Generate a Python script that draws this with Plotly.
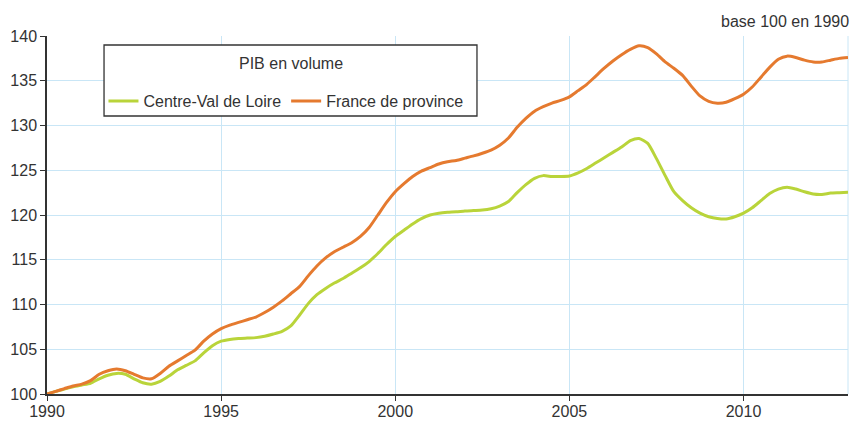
import plotly.graph_objects as go

# Quarterly index, base 100 in 1990
years = [1990 + q / 4 for q in range(93)]

france_province = [
    100.0, 100.3, 100.6, 100.9,
    101.1, 101.5, 102.2, 102.6,
    102.8, 102.6, 102.2, 101.8,
    101.7, 102.3, 103.1, 103.7,
    104.3, 104.9, 105.9, 106.7,
    107.3, 107.7, 108.0, 108.3,
    108.6, 109.1, 109.7, 110.4,
    111.2, 112.0, 113.2, 114.3,
    115.2, 115.9, 116.4, 116.9,
    117.6, 118.6, 120.0, 121.4,
    122.6, 123.5, 124.3, 124.9,
    125.3, 125.7, 125.95, 126.1,
    126.35, 126.6, 126.9, 127.25,
    127.8, 128.6, 129.8, 130.8,
    131.6, 132.1, 132.5, 132.8,
    133.2, 133.9, 134.6, 135.5,
    136.4, 137.2, 137.9, 138.5,
    138.9, 138.7, 138.0, 137.1,
    136.4, 135.6, 134.4, 133.3,
    132.7, 132.5, 132.6, 133.0,
    133.5, 134.3, 135.4, 136.5,
    137.4, 137.75, 137.6, 137.3,
    137.1, 137.1, 137.3, 137.5,
    137.6,
]

centre_val_de_loire = [
    100.0, 100.3, 100.55, 100.8,
    101.0, 101.2, 101.7, 102.1,
    102.3, 102.2, 101.7, 101.25,
    101.1, 101.4, 102.0, 102.7,
    103.2, 103.7, 104.6, 105.4,
    105.9, 106.1, 106.2, 106.25,
    106.3, 106.45, 106.7, 107.0,
    107.6, 108.8, 110.1, 111.1,
    111.8, 112.4, 112.9, 113.5,
    114.1, 114.8, 115.7, 116.7,
    117.6, 118.3, 119.0, 119.6,
    120.0, 120.2, 120.3, 120.35,
    120.45, 120.5, 120.55, 120.7,
    121.0, 121.5, 122.5, 123.4,
    124.1, 124.4, 124.3, 124.3,
    124.35, 124.7, 125.2, 125.8,
    126.4, 127.0, 127.6, 128.3,
    128.55, 128.0, 126.3, 124.4,
    122.6, 121.6, 120.8, 120.2,
    119.8, 119.6, 119.55, 119.8,
    120.2, 120.8, 121.6, 122.4,
    122.9, 123.1, 122.9, 122.6,
    122.35, 122.3, 122.45, 122.5,
    122.55,
]

x_ticks = [1990, 1995, 2000, 2005, 2010]
y_ticks = [100, 105, 110, 115, 120, 125, 130, 135, 140]

FONT = "Liberation Sans, Arial, Helvetica, sans-serif"
TXT = "#333333"
GRID = "#c9e6f6"

fig = go.Figure()
fig.add_trace(go.Scatter(
    x=years, y=centre_val_de_loire, mode="lines", name="Centre-Val de Loire",
    line=dict(color="#b9d43a", width=3, shape="spline", smoothing=0.6),
))
fig.add_trace(go.Scatter(
    x=years, y=france_province, mode="lines", name="France de province",
    line=dict(color="#e57a2f", width=3, shape="spline", smoothing=0.6),
))

fig.update_layout(
    width=853, height=421,
    margin=dict(l=47, r=5, t=36, b=27, autoexpand=False),
    paper_bgcolor="white", plot_bgcolor="white",
    font=dict(family=FONT, size=16, color=TXT),
    showlegend=True,
    legend=dict(
        orientation="h",
        x=0.0705, y=0.818, xanchor="left", yanchor="middle",
        bgcolor="rgba(0,0,0,0)", borderwidth=0,
        font=dict(family=FONT, size=16, color=TXT),
        itemwidth=30,
    ),
    xaxis=dict(
        range=[1990, 2013], tickvals=x_ticks, ticktext=[str(v) for v in x_ticks],
        showgrid=True, gridcolor=GRID, gridwidth=1,
        showline=True, linecolor="#333333", linewidth=1.5,
        ticks="outside", ticklen=5, tickcolor="#333333",
        zeroline=False, mirror=False, automargin=False,
        ticklabelstandoff=-3,
        tickfont=dict(family=FONT, size=16, color=TXT),
    ),
    yaxis=dict(
        range=[100, 140], tickvals=y_ticks,
        showgrid=True, gridcolor=GRID, gridwidth=1,
        showline=True, linecolor="#333333", linewidth=1.5,
        ticks="outside", ticklen=5, tickcolor="#333333",
        zeroline=False, automargin=False,
        tickfont=dict(family=FONT, size=16, color=TXT),
    ),
    annotations=[
        dict(
            text="base 100 en 1990", x=1, y=1, xref="paper", yref="paper",
            xanchor="right", yanchor="bottom", showarrow=False, yshift=4, xshift=3,
            font=dict(family=FONT, size=16, color=TXT),
        ),
        dict(
            text="PIB en volume", x=0.304, y=0.9218, xref="paper", yref="paper",
            xanchor="center", yanchor="middle", showarrow=False,
            font=dict(family=FONT, size=16, color=TXT),
        ),
    ],
    shapes=[
        dict(type="line", xref="paper", yref="paper", x0=1, x1=1, y0=0, y1=1,
             line=dict(color=GRID, width=1), layer="below"),
        dict(type="rect", xref="paper", yref="paper",
             x0=0.0712, x1=0.5368, y0=0.7765, y1=0.9749,
             fillcolor="white", line=dict(color="#333333", width=1.3), layer="above"),
    ],
)

fig.write_html(
    "out.html",
    config={"displayModeBar": False},
    post_script="document.body.style.margin='0';document.body.style.overflow='hidden';",
)
